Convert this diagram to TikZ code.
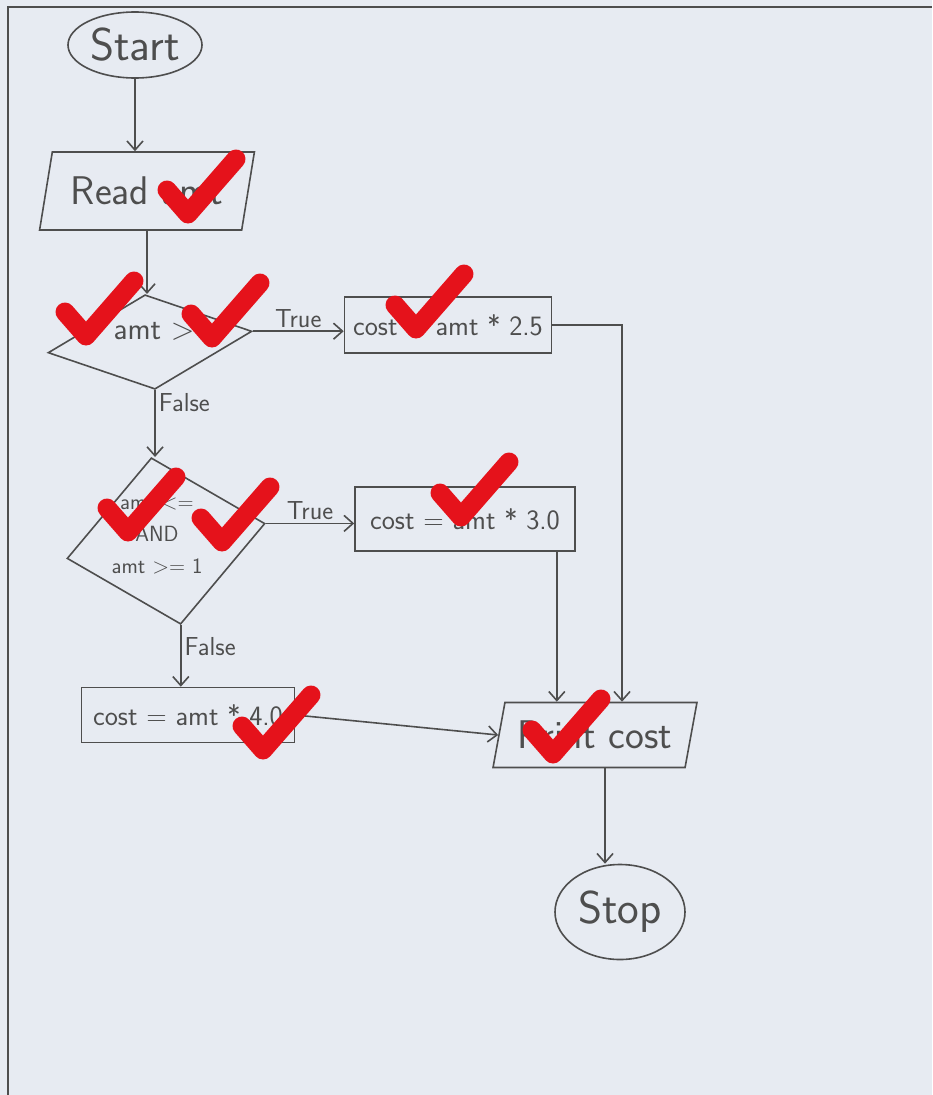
\documentclass[tikz,border=0pt]{standalone}
\usepackage{tikz}
\usetikzlibrary{shapes.geometric}
\usetikzlibrary{arrows.meta}
\usetikzlibrary{calc,positioning}

\definecolor{sheet}{HTML}{E7EBF2}
\definecolor{pencil}{HTML}{4E4E4E}
\definecolor{marker}{HTML}{E5121B}

\newcommand{\hand}[1]{\fontsize{#1}{#1}\selectfont\sffamily}

\begin{document}
\begin{tikzpicture}[x=1pt, y=-1pt,
        line/.style={draw=pencil, line width=1.6pt, text=pencil},
        arrow/.style={draw=pencil, line width=1.6pt, -{Straight Barb[length=9pt, width=16pt, line width=1.6pt]}},
        terminal/.style={line, ellipse, inner sep=0pt, font=\hand{46}},
        io/.style={line, trapezium, trapezium left angle=70, trapezium right angle=110, trapezium stretches=true, inner sep=0pt, font=\hand{40}},
        process/.style={line, rectangle, inner sep=0pt, font=\hand{28}},
        decision/.style={line, diamond, inner sep=0pt},
        branch/.style={text=pencil, font=\hand{26}, inner sep=3pt},
        tick/.style={draw=marker, line width=19pt, line cap=round, line join=round}]

        % sheet and its frame
        \useasboundingbox (0,0) rectangle (932,1095);
        \fill[sheet] (0,0) rectangle (932,1095);
        \draw[pencil, line width=2.5pt] (8,1095) -- (8,7) -- (932,7);

        % start, input and first test
        \node[terminal, minimum width=134pt, minimum height=66pt] (start) at (135,45) {Start};
        \node[io, minimum width=215pt, minimum height=78pt] (read) at (147,191) {Read amt};
        \node[decision, rotate=6, minimum width=205pt, minimum height=95pt] (cond1) at (150,342) {};
        \node[text=pencil, font=\hand{31}] (cond1txt) at (154,331) {amt \textgreater};

        % second test
        \node[decision, rotate=10, minimum width=201pt, minimum height=169pt] (cond2) at (166,541) {};
        \node[text=pencil, font={\fontsize{22}{32}\selectfont\sffamily}, align=center] (cond2txt) at (157,536) {amt \textless=\\AND\\amt \textgreater= 1};

        % the three sums
        \node[process, minimum width=207pt, minimum height=56pt] (calc1) at (448,325) {cost = amt * 2.5};
        \node[process, minimum width=220pt, minimum height=64pt] (calc2) at (465,519) {cost = amt * 3.0};
        \node[process, minimum width=213pt, minimum height=55pt] (calc3) at (188,715) {cost = amt * 4.0};

        % output and end
        \node[io, minimum width=204pt, minimum height=65pt] (print) at (595,735) {Print cost};
        \node[terminal, minimum width=130pt, minimum height=95pt] (stop) at (620,912) {Stop};

        % connectors
        \draw[arrow] (start) -- (start |- read.north);
        \draw[arrow] (read.south) -- (read.south |- cond1.north);
        \draw[arrow] (cond1.east) -- (cond1.east -| calc1.west) node[branch, midway, above] {True};
        \draw[arrow] (cond1.south) -- (cond1.south |- cond2.north) node[branch, pos=0.18, right] {False};
        \draw[arrow] (cond2.east) -- (cond2.east -| calc2.west) node[branch, midway, above] {True};
        \draw[arrow] (cond2.south) -- (cond2.south |- calc3.north) node[branch, pos=0.35, right] {False};
        \draw[arrow] (calc1.east) -| ([xshift=27pt]print.north);
        \draw[arrow] ([xshift=-19pt]calc2.south east) -- ([xshift=-19pt]calc2.south east |- print.north);
        \draw[arrow] (calc3.east) -- (print.west);
        \draw[arrow] ([xshift=10pt]print.south) -- ([xshift=10pt]print.south |- stop.north);

        % red marks over the answer
        \foreach \bx/\by in {188/214, 86/336, 212/338, 416/329, 128/532, 222/542, 461/517, 263/750, 553/754} {
            \draw[tick] (\bx-21,\by-24) -- (\bx,\by) -- (\bx+48,\by-55);
        }
    \end{tikzpicture}
\end{document}
